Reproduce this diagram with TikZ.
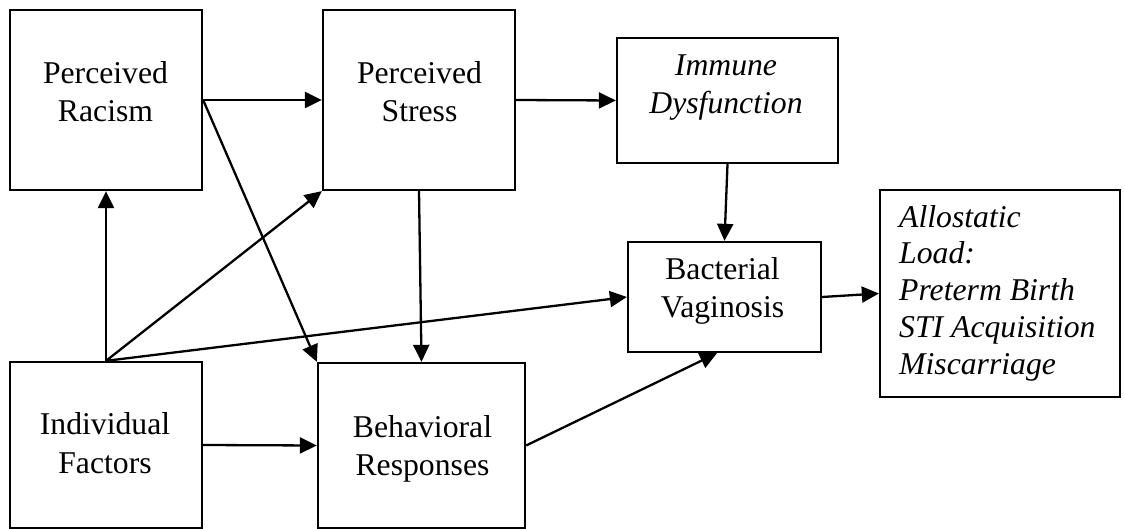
\documentclass[tikz,border=0pt]{standalone}
\usepackage{fontspec}
\setmainfont{Liberation Serif}
\usetikzlibrary{arrows.meta,calc}
\begin{document}
\begin{tikzpicture}[x=1pt,y=-1pt,
  box/.style={draw, line width=2.3pt, inner sep=0pt},
  lbl/.style={inner sep=0pt, align=center, font=\fontsize{31.7}{38}\selectfont,
    execute at begin node=\strut, execute at end node=\strut},
  conn/.style={line width=2.3pt, -{Triangle[length=17pt,width=16pt]}}]
\useasboundingbox (0,0) rectangle (1125,529);
% boxes
\node[box, minimum width=192pt, minimum height=180pt] (racism) at (106,100) {};
\node[box, minimum width=192pt, minimum height=180pt] (stress) at (419,100) {};
\node[box, minimum width=221pt, minimum height=125pt] (immune) at (727.5,100.5) {};
\node[box, minimum width=193pt, minimum height=110pt] (bv) at (724.5,297) {};
\node[box, minimum width=240pt, minimum height=207pt] (allo) at (1000,293.5) {};
\node[box, minimum width=192pt, minimum height=166pt] (indiv) at (106,445) {};
\node[box, minimum width=207pt, minimum height=165pt] (behav) at (421.5,445.5) {};
% texts
\node[lbl] (racismT) at (105.5,97.4) {Perceived\\Racism};
\node[lbl] (stressT) at (419.5,97.4) {Perceived\\Stress};
\node[lbl, font=\fontsize{31.7}{38}\selectfont\itshape] (immuneT) at (726,89.4) {Immune\\Dysfunction};
\node[lbl] (bvT) at (722.5,293.4) {Bacterial\\Vaginosis};
\node[lbl, font=\fontsize{31.7}{39}\selectfont] (indivT) at (105,449) {Individual\\Factors};
\node[lbl] (behavT) at (422.5,451.4) {Behavioral\\Responses};
\node[lbl, align=left, anchor=west, font=\fontsize{31.7}{36.75}\selectfont\itshape] (alloT) at (899,295.2)
  {Allostatic\\Load:\\Preterm Birth\\STI Acquisition\\Miscarriage};
% connectors
\draw[conn] (racism.east) -- (stress.west);
\draw[conn] (stress.east) -- (immune.west);
\draw[conn] (racism.east) -- (behav.north west);
\draw[conn] (indiv.north) -- (racism.south);
\draw[conn] (indiv.north) -- (stress.south west);
\draw[conn] (indiv.north) -- (bv.west);
\draw[conn] (stress.south) -- (behav.north);
\draw[conn] (immune.south) -- (bv.north);
\draw[conn] (indiv.east) -- (behav.west);
\draw[conn] (behav.east) -- ([xshift=-7.5pt]bv.south);
\draw[conn] (bv.east) -- (allo.west);
\end{tikzpicture}
\end{document}
